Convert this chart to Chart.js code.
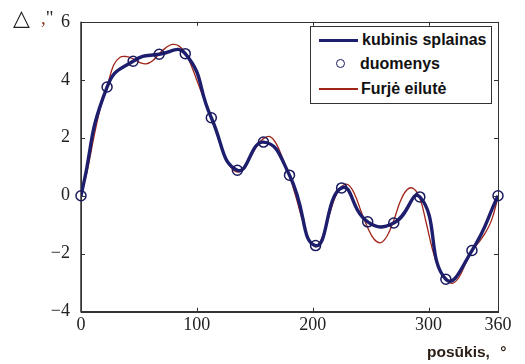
<!DOCTYPE html>
<html><head><meta charset="utf-8">
<script src="https://cdn.jsdelivr.net/npm/chart.js@4/dist/chart.umd.min.js"></script>
<style>
html,body{margin:0;padding:0;background:#fff;}
#wrap{position:relative;width:525px;height:364px;overflow:hidden;background:#fff;}
canvas{position:absolute;left:0;top:0;}
.lbl{position:absolute;white-space:nowrap;line-height:20px;}
#legend{position:absolute;left:310px;top:26px;width:180px;height:76px;border:1px solid #333;background:#fff;font-family:"Liberation Sans",Arial,sans-serif;font-weight:bold;font-size:16px;color:#111;}
#legend .t{position:absolute;white-space:nowrap;line-height:20px;}
#legend .ln{position:absolute;}
</style>
</head><body>
<div id="wrap">
<canvas id="c" width="525" height="364"></canvas>
<div class="lbl" style="left:13px;top:8px;font-family:'DejaVu Sans';font-size:22px;color:#222;">△</div>
<div class="lbl" style="left:41px;top:8px;font-family:'Liberation Serif';font-size:19px;"><span style="color:#8a3a1a">,</span><span style="color:#222">"</span></div>
<div class="lbl" style="left:427px;top:342px;font-family:'Liberation Sans',Arial,sans-serif;font-weight:bold;font-size:15.5px;color:#2b1d14;word-spacing:6px;">posūkis, °</div>
<div id="legend">
  <div class="ln" style="left:8px;top:12px;width:39px;height:3px;background:#1e1e6e;"></div>
  <div class="t" style="left:51px;top:3px;">kubinis splainas</div>
  <div class="ln" style="left:25px;top:32px;width:7px;height:7px;border:1.5px solid #1a1a5e;border-radius:50%;"></div>
  <div class="t" style="left:49px;top:27px;">duomenys</div>
  <div class="ln" style="left:8px;top:61px;width:39px;height:1.5px;background:#a02418;"></div>
  <div class="t" style="left:50px;top:52px;">Furjė eilutė</div>
</div>
</div>
<script>
// Data
const anglesData = [0,22.5,45,67.5,90,112.5,135,157.5,180,202.5,225,247.5,270,292.5,315,337.5,360];
const valuesData = [0,3.75,4.64,4.88,4.90,2.69,0.88,1.85,0.71,-1.72,0.27,-0.90,-0.94,-0.04,-2.88,-1.89,0];
const anglesFourier = [0,5.6,11.25,16.9,22.5,28.1,33.75,39.4,45,50.6,56.25,61.9,67.5,73.1,78.75,84.4,90,95.6,101.25,106.9,112.5,118.1,123.75,129.4,135,140.6,146.25,151.9,157.5,163.1,168.75,174.4,180,185.6,191.25,196.9,202.5,208.1,213.75,219.4,225,230.6,236.25,241.9,247.5,253.1,258.75,264.4,270,275.6,281.25,286.9,292.5,298.1,303.75,309.4,315,320.6,326.25,331.9,337.5,343.1,348.75,354.4,360];
const valuesFourier = [0,0.9,2.05,3.05,3.75,4.5,4.78,4.8,4.72,4.6,4.55,4.66,4.9,5.1,5.22,5.17,4.93,4.45,3.85,3.25,2.67,2.02,1.42,0.98,0.82,0.95,1.32,1.72,1.97,2.04,1.78,1.25,0.68,-0.05,-0.85,-1.5,-1.76,-1.45,-0.75,-0.05,0.32,0.38,0.05,-0.55,-1.1,-1.5,-1.62,-1.38,-0.85,-0.2,0.2,0.25,-0.08,-0.95,-1.9,-2.55,-2.88,-3.02,-2.82,-2.35,-1.92,-1.62,-1.3,-0.85,-0.05];
const xTickValues = [0,100,200,300,360];
const yTickValues = [-4,-2,0,2,4,6];

const pts = (xs, ys) => xs.map((x,i)=>({x:x,y:ys[i]}));

const framePlugin = {
  id:'frame',
  beforeDatasetsDraw(chart){
    const ctx = chart.ctx, a = chart.chartArea;
    const xs = chart.scales.x, ys = chart.scales.y;
    ctx.save();
    ctx.strokeStyle = '#333';
    ctx.lineWidth = 1;
    ctx.strokeRect(Math.round(a.left)+0.5, Math.round(a.top)+0.5, Math.round(a.right-a.left), Math.round(a.bottom-a.top));
    ctx.lineWidth = 1.5;
    ctx.beginPath();
    ctx.moveTo(a.left, a.top); ctx.lineTo(a.left, a.bottom); ctx.lineTo(a.right, a.bottom);
    ctx.stroke();
    ctx.lineWidth = 1;
    const L = 4;
    ctx.beginPath();
    xTickValues.forEach(v=>{
      const px = Math.round(xs.getPixelForValue(v))+0.5;
      ctx.moveTo(px, a.bottom); ctx.lineTo(px, a.bottom-L);
      ctx.moveTo(px, a.top); ctx.lineTo(px, a.top+L);
    });
    yTickValues.forEach(v=>{
      const py = Math.round(ys.getPixelForValue(v))+0.5;
      ctx.moveTo(a.left, py); ctx.lineTo(a.left+L, py);
      ctx.moveTo(a.right, py); ctx.lineTo(a.right-L, py);
    });
    ctx.stroke();
    ctx.restore();
  }
};

new Chart(document.getElementById('c'), {
  type:'line',
  data:{
    datasets:[
      {label:'duomenys', data:pts(anglesData, valuesData), showLine:false, pointStyle:'circle', pointRadius:5, pointBorderWidth:1.5, pointBorderColor:'#1a1a5e', pointBackgroundColor:'rgba(0,0,0,0)', clip:false},
      {label:'kubinis splainas', data:pts(anglesData, valuesData), borderColor:'#1e1e6e', borderWidth:3.4, pointRadius:0, tension:0.52, fill:false},
      {label:'Furjė eilutė', data:pts(anglesFourier, valuesFourier), borderColor:'#a02418', borderWidth:1.3, pointRadius:0, tension:0.4, fill:false}
    ]
  },
  options:{
    responsive:false, devicePixelRatio:1, animation:false,
    layout:{padding:{left:0, top:19, right:27, bottom:0}},
    plugins:{legend:{display:false}, tooltip:{enabled:false}},
    scales:{
      x:{type:'linear', min:0, max:360,
        grid:{display:false, drawTicks:false}, border:{display:false},
        afterBuildTicks:(s)=>{ s.ticks = xTickValues.map(v=>({value:v})); },
        afterFit:(s)=>{ s.height = 52.3; },
        ticks:{padding:3, color:'#222', font:{family:'Liberation Serif', size:18}, maxRotation:0, autoSkip:false}
      },
      y:{type:'linear', min:-4, max:6,
        grid:{display:false, drawTicks:false}, border:{display:false},
        afterBuildTicks:(s)=>{ s.ticks = yTickValues.map(v=>({value:v})); },
        afterFit:(s)=>{ s.width = 81; },
        ticks:{padding:11, color:'#222', font:{family:'Liberation Serif', size:18}, callback:(v)=> String(v).replace('-', '\u2212')}
      }
    }
  },
  plugins:[framePlugin]
});
</script>
</body></html>
